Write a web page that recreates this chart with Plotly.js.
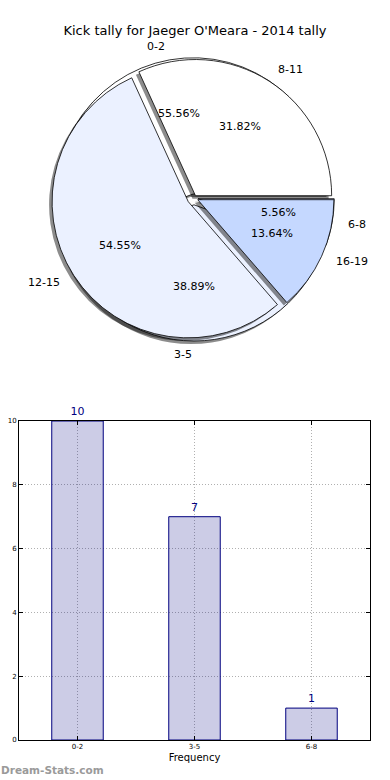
<!DOCTYPE html>
<html>
<head>
<meta charset="utf-8">
<script src="https://cdn.plot.ly/plotly-3.0.1.min.js"></script>
<style>html,body{margin:0;padding:0;background:#fff;}#chart{width:390px;height:780px;}</style>
</head>
<body>
<div id="chart"></div>
<script>
// ---- data ----
var pie1Labels = ['0-2', '3-5', '6-8'];
var pie1Values = [10, 7, 1];
var pie2Labels = ['8-11', '12-15', '16-19'];
var pie2Values = [7, 12, 3];
var barCategories = ['0-2', '3-5', '6-8'];
var barValues = [10, 7, 1];
var yTicks = [0, 2, 4, 6, 8, 10];

// ---- styles ----
var W = 390, H = 780;
var FONT = 'DejaVu Sans, sans-serif';
var sliceColors = ['#FFFFFF', '#EBF1FF', '#C5D8FF'];
var pie1Pull = [0.03, 0.05, 0.03];
var pie2Pull = [0.02, 0.05, 0.03];
var maxPull = 0.05;
var cx = 194, cy = 198, half = 143; // pie box in pixels
var r = half / (1 + maxPull);

function sum(a) { return a.reduce(function (p, q) { return p + q; }, 0); }

function dom(dx, dy) {
  return {
    x: [(cx - half + dx) / W, (cx + half + dx) / W],
    y: [1 - (cy + half + dy) / H, 1 - (cy - half + dy) / H]
  };
}

// first slice starts at 3 o'clock and runs counter-clockwise
function pieTrace(labels, values, pull, colors, d, line) {
  var firstDeg = 360 * values[0] / sum(values);
  return {
    type: 'pie', labels: labels, values: values, sort: false,
    direction: 'counterclockwise', rotation: 90 - firstDeg, pull: pull,
    domain: d, textinfo: 'none', hoverinfo: 'label+percent',
    showlegend: false,
    marker: {colors: colors, line: line}
  };
}
var shadowCol = ['rgba(0,0,0,0.45)', 'rgba(0,0,0,0.45)', 'rgba(0,0,0,0.45)'];
var edge = {color: '#000', width: 0.8};

var traces = [
  pieTrace(pie1Labels, pie1Values, pie1Pull, shadowCol, dom(-3, 3), {width: 0}),
  pieTrace(pie1Labels, pie1Values, pie1Pull, sliceColors, dom(0, 0), edge),
  pieTrace(pie2Labels, pie2Values, pie2Pull, shadowCol, dom(-3, 3), {width: 0}),
  pieTrace(pie2Labels, pie2Values, pie2Pull, sliceColors, dom(0, 0), edge),
  {
    type: 'bar', x: barCategories, y: barValues, width: 0.44,
    xaxis: 'x', yaxis: 'y',
    marker: {color: 'rgba(0,0,128,0.2)', line: {color: '#00007F', width: 1}},
    text: barValues.map(String), textposition: 'outside',
    textfont: {family: FONT, size: 11, color: '#00007F'},
    cliponaxis: false, showlegend: false, hoverinfo: 'x+y'
  }
];

// label annotations derived from the pie values
var annotations = [];
function addPieText(labels, values, pull) {
  var total = sum(values);
  var start = 0;
  for (var i = 0; i < values.length; i++) {
    var frac = values[i] / total;
    var mid = (start + frac * 180) * Math.PI / 180;
    start += frac * 360;
    var c = Math.cos(mid), s = Math.sin(mid);
    var lr = r * (1.1 + pull[i]);
    var pr = r * (0.6 + pull[i]);
    annotations.push({
      xref: 'paper', yref: 'paper', showarrow: false,
      x: (cx + lr * c) / W, y: 1 - (cy - lr * s) / H,
      xanchor: c >= 0 ? 'left' : 'right', yanchor: 'middle',
      text: labels[i], font: {family: FONT, size: 11, color: '#000'}
    });
    annotations.push({
      xref: 'paper', yref: 'paper', showarrow: false,
      x: (cx + pr * c) / W, y: 1 - (cy - pr * s) / H,
      xanchor: 'center', yanchor: 'middle',
      text: (frac * 100).toFixed(2) + '%', font: {family: FONT, size: 11, color: '#000'}
    });
  }
}
addPieText(pie1Labels, pie1Values, pie1Pull);
addPieText(pie2Labels, pie2Values, pie2Pull);

annotations.push({
  xref: 'paper', yref: 'paper', showarrow: false,
  x: -0.003, y: 1 - 770 / H, xanchor: 'left', yanchor: 'middle',
  text: '<b>Dream-Stats.com</b>', font: {family: FONT, size: 10.5, color: '#9A9A9A'}
});

var grid = {showgrid: true, gridcolor: '#B0B0B0', griddash: '1px,2px', gridwidth: 1};

var layout = {
  width: W, height: H,
  margin: {l: 0, r: 0, t: 0, b: 0},
  paper_bgcolor: '#fff', plot_bgcolor: '#fff',
  font: {family: FONT, color: '#000'},
  title: {
    text: "Kick tally for Jaeger O'Meara - 2014 tally",
    font: {family: FONT, size: 13, color: '#000'},
    x: 0.5, xanchor: 'center', y: 1 - 30 / H, yanchor: 'middle'
  },
  xaxis: Object.assign({
    domain: [19 / W, 370 / W], anchor: 'y',
    type: 'category', range: [-0.5, 2.5],
    showline: true, mirror: 'ticks', linecolor: '#000', linewidth: 1,
    ticks: 'inside', ticklen: 4, tickcolor: '#000',
    tickfont: {family: FONT, size: 7, color: '#000'},
    title: {text: 'Frequency', font: {family: FONT, size: 10, color: '#000'}, standoff: 3},
    zeroline: false, fixedrange: true
  }, grid),
  yaxis: Object.assign({
    domain: [40 / H, 359 / H], anchor: 'x',
    range: [0, 10], tickvals: yTicks,
    showline: true, mirror: 'ticks', linecolor: '#000', linewidth: 1,
    ticks: 'inside', ticklen: 4, tickcolor: '#000',
    tickfont: {family: FONT, size: 7, color: '#000'},
    zeroline: false, fixedrange: true
  }, grid),
  annotations: annotations,
  showlegend: false
};

Plotly.newPlot('chart', traces, layout, {displayModeBar: false, staticPlot: true});
</script>
</body>
</html>
